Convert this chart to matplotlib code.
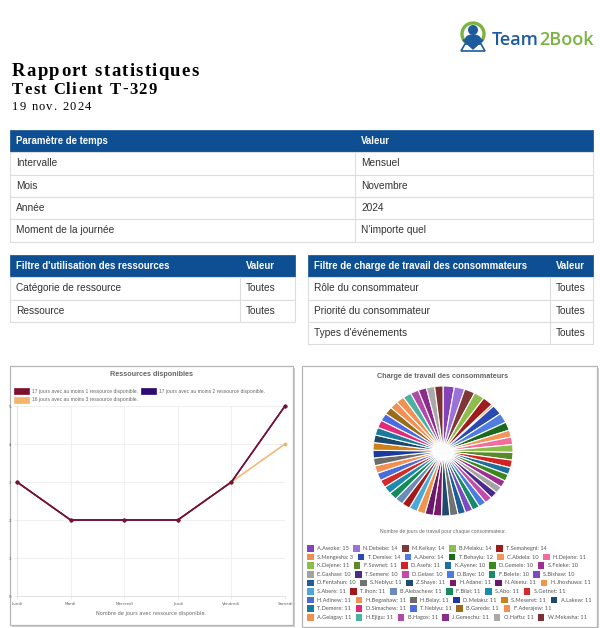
import matplotlib
matplotlib.use("Agg")
import matplotlib.pyplot as plt
from matplotlib.patches import Rectangle, Circle, Polygon, Arc, Ellipse

W, H = 600, 628

# --- contenu du rapport ---
report_title = "Rapport statistiques"
client_name = "Test Client T-329"
report_date = "19 nov. 2024"

time_header = ["Paramètre de temps", "Valeur"]
time_rows = [["Intervalle", "Mensuel"], ["Mois", "Novembre"], ["Année", "2024"],
             ["Moment de la journée", "N'importe quel"]]
res_header = ["Filtre d'utilisation des ressources", "Valeur"]
res_rows = [["Catégorie de ressource", "Toutes"], ["Ressource", "Toutes"]]
cons_header = ["Filtre de charge de travail des consommateurs", "Valeur"]
cons_rows = [["Rôle du consommateur", "Toutes"], ["Priorité du consommateur", "Toutes"],
             ["Types d'événements", "Toutes"]]

# --- ressources disponibles ---
days = ["Lundi", "Mardi", "Mercredi", "Jeudi", "Vendredi", "Samedi"]
series_labels = ["17 jours avec au moins 1 ressource disponible.",
                 "17 jours avec au moins 2 ressource disponible.",
                 "16 jours avec au moins 3 ressource disponible."]
series_1 = [3, 2, 2, 2, 3, 5]
series_2 = [3, 2, 2, 2, 3, 5]
series_3 = [3, 2, 2, 2, 3, 4]
series_colors = ["#7d0f2f", "#2f0b74", "#f5b46c"]

# --- charge de travail ---
consumers = ["A.Awoke", "N.Debebe", "M.Kelkay", "B.Melaku", "T.Semahegni",
             "S.Mengesha", "T.Demise", "A.Abero", "T.Behaylu", "C.Abdela", "H.Dejene",
             "K.Dejene", "F.Sewnet", "D.Asefa", "K.Ayene", "D.Gemele", "S.Feleke",
             "E.Gashaw", "T.Semere", "D.Gelaw", "D.Baye", "F.Belete", "S.Bishaw",
             "D.Fentahun", "S.Neblyu", "Z.Shaye", "H.Adane", "N.Alemu", "H.Jhoshuwa",
             "S.Abere", "T.Ihon", "B.Alebachew", "F.Bilal", "S.Abo", "S.Getnet",
             "H.Adinew", "H.Begashaw", "H.Belay", "D.Melaku", "S.Meseret", "A.Lakew",
             "T.Demere", "D.Simachew", "T.Neblyu", "B.Garede", "F.Aderajew",
             "A.Gelagay", "H.Ejigu", "B.Hagos", "J.Gemechu", "O.Haftu", "W.Mekasha"]
workdays = [15, 14, 14, 14, 14,
            3, 14, 14, 12, 10, 11,
            11, 11, 11, 10, 10, 10,
            10, 10, 10, 10, 10, 10,
            10, 11, 11, 11, 11, 11,
            11, 11, 11, 11, 11, 11,
            11, 11, 11, 11, 11, 11,
            11, 11, 11, 11, 11,
            11, 11, 11, 11, 11, 11]
consumer_colors = ["#8344b8", "#9a72d8", "#7e3838", "#8fbd4c", "#a01b1b",
                   "#f08f4c", "#2a49b3", "#4f7de0", "#196a1c", "#f5955a", "#f06d9c",
                   "#8cbd4a", "#5b8a2b", "#d42222", "#1f6e9b", "#3b891c", "#9d2f90",
                   "#a3a3a3", "#4b2a8b", "#c24ca9", "#4a7be0", "#168a6b", "#7b4bc2",
                   "#1e5f9a", "#727272", "#1e4a6b", "#7b1a6b", "#6b176b", "#f2954c",
                   "#4ba9d9", "#a11a1a", "#6b8bb9", "#17895a", "#1a8ab1", "#d12b2b",
                   "#4b6bd9", "#f19052", "#6b6b6b", "#1b3a9b", "#d0801b", "#1b4a6b",
                   "#1b7a9b", "#e02b7b", "#4b6be0", "#9b6a1b", "#f19052",
                   "#f19052", "#4bb1a1", "#b14ba9", "#8b2b8b", "#a9a9a9", "#7b3131"]

HEAD = "#0e4f93"
GRIDC = "#dddddd"
TXT = "#333333"

fig = plt.figure(figsize=(6, 6.28), dpi=100)
bg = fig.add_axes([0, 0, 1, 1])
bg.set_xlim(0, W)
bg.set_ylim(H, 0)
bg.axis("off")
renderer = fig.canvas.get_renderer()


def spaced(x, y, s, spacing, **kw):
    # texte avec espacement des lettres (dessine caractere par caractere)
    for ch in s:
        t = bg.text(x, y, ch, va="baseline", **kw)
        if ch == " ":
            w = bg.text(0, 0, "a a", alpha=0, **kw).get_window_extent(renderer).width - \
                bg.text(0, 0, "aa", alpha=0, **kw).get_window_extent(renderer).width
        else:
            w = t.get_window_extent(renderer).width
        x += w + spacing


# logo
bg.add_patch(Arc((473, 34), 22, 22, theta1=125, theta2=415, color="#7ab342", lw=2.4))
bg.add_patch(Circle((473, 30), 4.3, color="#1e5b9c"))
bg.add_patch(Ellipse((473, 39.5), 15, 9, color="#1e5b9c"))
bg.add_patch(Polygon([(463, 40), (483, 40), (473, 49)], color="#1e5b9c"))
bg.add_patch(Polygon([(465, 44), (481, 44), (485, 51), (461, 51)], closed=True,
                     fill=False, ec="#1e5b9c", lw=1.2))
t1 = bg.text(492, 40, "Team", color="#1e5b9c", fontsize=13, family="Open Sans",
             weight="semibold", va="center")
ext = t1.get_window_extent(renderer)
bg.text(492 + ext.width, 40, "2Book", color="#7ab342", fontsize=13,
        family="Open Sans", weight="semibold", va="center")

# en-tete
spaced(12, 75.5, report_title, 1.3, fontsize=13.5, family="Liberation Serif", weight="bold")
spaced(12, 94, client_name, 1.3, fontsize=12, family="Liberation Serif", weight="bold")
spaced(12, 109.5, report_date, 1.2, fontsize=9, family="Liberation Serif")


def draw_table(x0, x1, xs, y0, header, rows, rh=22.3):
    bg.add_patch(Rectangle((x0, y0), x1 - x0, rh, fc=HEAD, ec=HEAD, lw=0.5))
    bg.text(x0 + 6, y0 + rh / 2, header[0], color="white", weight="bold",
            fontsize=6.9, family="Liberation Sans", va="center")
    bg.text(xs + 6, y0 + rh / 2, header[1], color="white", weight="bold",
            fontsize=6.9, family="Liberation Sans", va="center")
    for i, (a, b) in enumerate(rows):
        yt = y0 + rh * (i + 1)
        bg.add_patch(Rectangle((x0, yt), x1 - x0, rh, fc="white", ec=GRIDC, lw=0.8))
        bg.plot([xs, xs], [yt, yt + rh], color=GRIDC, lw=0.8)
        bg.text(x0 + 6, yt + rh / 2, a, color=TXT, fontsize=7.3,
                family="Liberation Sans", va="center")
        bg.text(xs + 6, yt + rh / 2, b, color=TXT, fontsize=7.3,
                family="Liberation Sans", va="center")


draw_table(10, 593, 355, 130, time_header, time_rows)
draw_table(10, 295, 240, 255, res_header, res_rows)
draw_table(308, 593, 550, 255, cons_header, cons_rows)

# cadres des graphiques
for (x0, y0, x1, y1) in [(10, 366, 293, 625), (302, 366, 597, 627)]:
    bg.add_patch(Rectangle((x0 + 1.5, y0 + 1.5), x1 - x0, y1 - y0, fc="#cfcfcf", ec="none"))
    bg.add_patch(Rectangle((x0, y0), x1 - x0, y1 - y0, fc="white", ec="#b5b5b5", lw=0.9))

# --- graphique lignes ---
bg.text(151, 375, "Ressources disponibles", fontsize=5.2, weight="bold", color="#666666",
        family="Liberation Sans", ha="center", va="center")
lx, ly = 14, 391
for lab, col in zip(series_labels, series_colors):
    tt = bg.text(0, 0, lab, fontsize=3.6, color="#666666", family="Liberation Sans",
                 va="center")
    w = tt.get_window_extent(renderer).width
    if lx + 18 + w > 290:
        lx, ly = 14, ly + 9
    bg.add_patch(Rectangle((lx, ly - 3), 15, 6, fc=col, ec=col, lw=0.5))
    tt.set_position((lx + 18, ly))
    lx = lx + 18 + w + 3

ax = fig.add_axes([17 / W, 1 - 596 / H, 268 / W, 190 / H])
xs = list(range(len(days)))
for vals, col, z in zip([series_1, series_2, series_3], series_colors, [5, 4, 3]):
    ax.plot(xs, vals, color=col, lw=1.1, marker="o", ms=1.8, mfc=col, mec=col,
            zorder=z, clip_on=False)
ax.set_xlim(0, 5)
ax.set_ylim(0, 5)
ax.set_xticks(xs, days)
ax.set_yticks(range(6))
ax.grid(color="#ececec", lw=0.6)
ax.set_axisbelow(True)
for s in ["top", "right"]:
    ax.spines[s].set_visible(False)
for s in ["left", "bottom"]:
    ax.spines[s].set_color("#dedede")
    ax.spines[s].set_linewidth(0.6)
ax.tick_params(labelsize=3, colors="#666666", length=2, width=0.5, pad=2)
ax.tick_params(axis="both", color="#e0e0e0")
ax.set_xlabel("Nombre de jours avec ressource disponible.", fontsize=3.6, color="#666666",
              labelpad=4)

# --- graphique camembert ---
bg.text(443, 376, "Charge de travail des consommateurs", fontsize=5.2, weight="bold",
        color="#666666", family="Liberation Sans", ha="center", va="center")
pax = fig.add_axes([373 / W, 1 - 516 / H, 140 / W, 130 / H])
pax.pie(workdays, colors=consumer_colors, startangle=90, counterclock=False,
        wedgeprops=dict(edgecolor="white", linewidth=0.8))
pax.set_aspect("auto")
pax.set_xlim(-1, 1)
pax.set_ylim(-1, 1)
bg.text(443, 532, "Nombre de jours de travail pour chaque consommateur.", fontsize=3.6,
        color="#666666", family="Liberation Sans", ha="center", va="center")

px, py = 307, 548.5
for name, val, col in zip(consumers, workdays, consumer_colors):
    tt = bg.text(0, 0, f"{name}: {val}", fontsize=4.1, color="#555555", family="Lato",
                 va="center")
    w = tt.get_window_extent(renderer).width
    if px + 10 + w > 592:
        px, py = 307, py + 8.6
    bg.add_patch(Rectangle((px, py - 3.3), 6.6, 6.6, fc=col, ec="none"))
    tt.set_position((px + 10, py))
    px = px + 10 + w + 4.5

fig.savefig("out.png", dpi=100)
